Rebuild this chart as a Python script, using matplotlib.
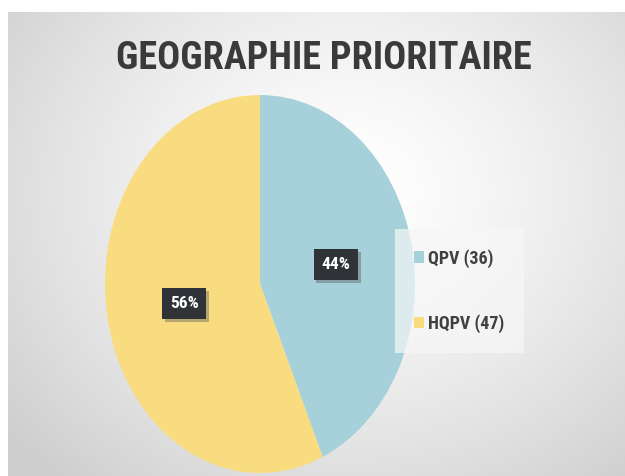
import numpy as np
import matplotlib.pyplot as plt
from matplotlib import patheffects as pe

labels = ['QPV', 'HQPV']
counts = [36, 47]
pct_labels = ['44%', '56%']
colors = ['#a6d0da', '#f9dc80']
title = 'GEOGRAPHIE PRIORITAIRE'

plt.rcParams['font.family'] = ['Roboto Condensed', 'DejaVu Sans']

fig = plt.figure(figsize=(6.25, 4.76), dpi=100)
fig.patch.set_facecolor('white')

# radial gradient background
bg = fig.add_axes([8 / 625, 0, 1 - 8 / 625, 1 - 12 / 476])
w, h = 617, 464
yy, xx = np.mgrid[0:h, 0:w]
d = np.sqrt(((xx - 340) / 1.15) ** 2 + (yy - 180) ** 2) / 380
d = np.clip(d, 0, 1)
shade = 1 - 0.19 * d ** 1.4
bg.imshow(np.dstack([shade] * 3), extent=[0, w, h, 0], aspect='auto')
bg.axis('off')

fig.text(0.518, 0.878, title, ha='center', va='center', fontsize=27.5,
         fontweight='bold', color='#3a3a3a')

ax = fig.add_axes([105 / 625, 3 / 476, 310 / 625, 378 / 476])
wedges, texts = ax.pie(counts, colors=colors, startangle=90,
                       counterclock=False, labels=pct_labels,
                       labeldistance=0.5, wedgeprops=dict(linewidth=0))
ax.set_aspect('auto')
ax.set_xlim(-1, 1)
ax.set_ylim(-1, 1)
for t in texts:
    t.set_ha('center')
    t.set_va('center')
    t.set_color('white')
    t.set_fontweight('bold')
    t.set_fontsize(12.5)
    t.set_bbox(dict(boxstyle='square,pad=0.45', fc='#2f3236', ec='none'))
    t.get_bbox_patch().set_path_effects(
        [pe.withSimplePatchShadow(offset=(2, -2), shadow_rgbFace='#555555', alpha=0.4)])

leg_labels = [f'{l} ({c})' for l, c in zip(labels, counts)]
leg = fig.legend(wedges, leg_labels, loc='center left',
                 bbox_to_anchor=(400 / 625, 1 - 291 / 476),
                 frameon=True, fontsize=13, handlelength=0.55, handleheight=0.6,
                 handletextpad=0.2, labelspacing=2.6, borderpad=0.8,
                 borderaxespad=0)
for t in leg.get_texts():
    t.set_fontweight('bold')
    t.set_color('#404040')
frame = leg.get_frame()
frame.set_facecolor('#f7f7f7')
frame.set_edgecolor('none')
frame.set_alpha(0.7)
frame.set_boxstyle('square')

fig.savefig('out.png', dpi=100)
